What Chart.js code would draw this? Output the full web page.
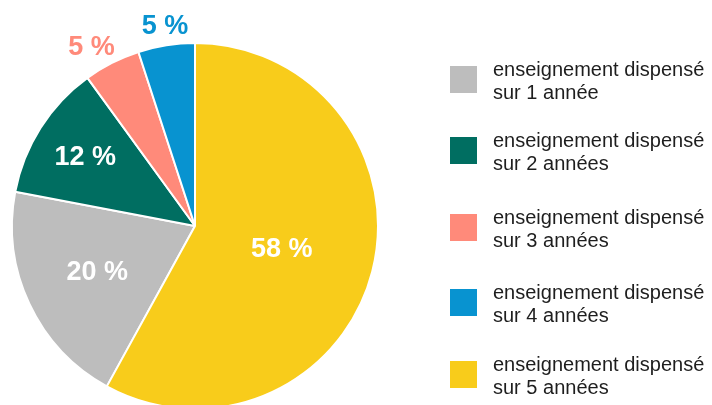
<!DOCTYPE html>
<html>
<head>
<meta charset="utf-8">
<script src="https://cdn.jsdelivr.net/npm/chart.js@4.4.0/dist/chart.umd.min.js"></script>
<style>
    html, body { margin: 0; padding: 0; background: #fff; overflow: hidden; }
    #wrap { position: relative; width: 712px; height: 420px; }
</style>
</head>
<body>
<div id="wrap"><canvas id="PieChart"></canvas></div>
<script>
// -------------------------    Data    -------------------------

var categories = [
    ['enseignement dispensé', 'sur 1 année'],
    ['enseignement dispensé', 'sur 2 années'],
    ['enseignement dispensé', 'sur 3 années'],
    ['enseignement dispensé', 'sur 4 années'],
    ['enseignement dispensé', 'sur 5 années'],
];
var shares = [20, 12, 5, 5, 58];
var percentLabels = ['20 %', '12 %', '5 %', '5 %', '58 %'];

// -------------------------    Styles    -------------------------

var colors = ['#bdbdbd', '#006e61', '#ff8a7a', '#0893d0', '#f8cc1b'];
// label radius as fraction of pie radius, > 1 means outside
var labelRadius = [0.59, 0.71, 1.13, 1.11, 0.49];
// small angular nudge of the label, in degrees
var labelShift = [0, 0, -3, 0.5, 0];
var legendTops = [66, 137, 214, 289, 361];

// -------------------------    Plugins    -------------------------

const sliceLabels = {
    id: 'sliceLabels',
    afterDatasetsDraw(chart) {
        const ctx = chart.ctx;
        const meta = chart.getDatasetMeta(0);
        ctx.save();
        ctx.font = 'bold 27px "Liberation Sans", Arial, sans-serif';
        ctx.textAlign = 'center';
        ctx.textBaseline = 'middle';
        meta.data.forEach((arc, i) => {
            const mid = (arc.startAngle + arc.endAngle) / 2 + labelShift[i] * Math.PI / 180;
            const r = arc.outerRadius * labelRadius[i];
            const x = arc.x + Math.cos(mid) * r;
            const y = arc.y + Math.sin(mid) * r;
            ctx.fillStyle = labelRadius[i] > 1 ? colors[i] : '#ffffff';
            ctx.fillText(percentLabels[i], x, y + 1);
        });
        ctx.restore();
    }
};

const sideLegend = {
    id: 'sideLegend',
    afterDraw(chart) {
        const ctx = chart.ctx;
        ctx.save();
        ctx.font = '20px "Liberation Sans", Arial, sans-serif';
        ctx.textBaseline = 'alphabetic';
        ctx.textAlign = 'left';
        categories.forEach((lines, i) => {
            const top = legendTops[i];
            ctx.fillStyle = colors[i];
            ctx.fillRect(450, top, 27, 27);
            ctx.fillStyle = '#1e1e1e';
            lines.forEach((line, j) => {
                ctx.fillText(line, 493, top + 10 + j * 23);
            });
        });
        ctx.restore();
    }
};

// -------------------------    Chart Setup    -------------------------

var ctx = document.getElementById('PieChart').getContext('2d');
var PieChart = new Chart(ctx, {
    type: 'pie',
    data: {
        labels: categories.map(l => l.join(' ')),
        datasets: [{
            data: shares,
            backgroundColor: colors,
            borderColor: '#ffffff',
            borderWidth: 2,
        }]
    },
    options: {
        responsive: true,
        maintainAspectRatio: false,
        animation: false,
        rotation: 208.8,
        layout: {
            padding: { left: 11, top: 42, right: 333, bottom: 10 }
        },
        plugins: {
            legend: { display: false },
            tooltip: { enabled: false },
        }
    },
    plugins: [sliceLabels, sideLegend]
});
</script>
</body>
</html>
